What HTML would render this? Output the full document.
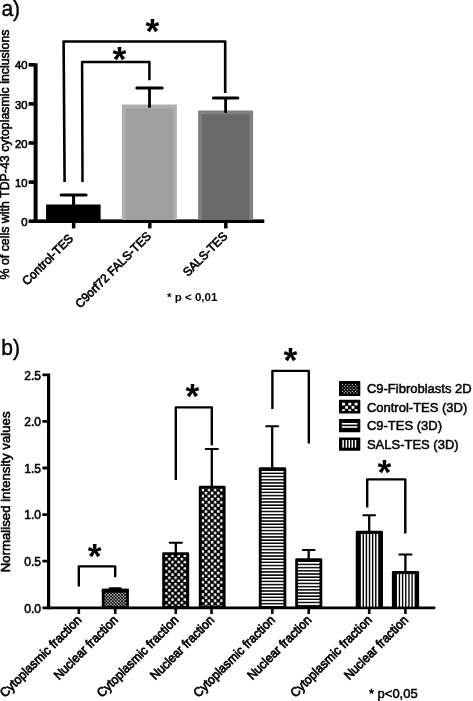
<!DOCTYPE html>
<html lang="en"><head><meta charset="utf-8"><title>Figure</title>
<style>html,body{margin:0;padding:0;background:#fff;overflow:hidden}svg{display:block;filter:grayscale(1)}text{font-family:"Liberation Sans", Arial, Helvetica, sans-serif;fill:#000}</style>
</head><body>
<svg width="473" height="701" viewBox="0 0 473 701">
<defs>
<pattern id="chk2" patternUnits="userSpaceOnUse" width="6.2" height="6.24" x="164.75" y="554.44"><rect width="6.2" height="6.24" fill="#000"/><rect x="0.32" y="0.33" width="2.45" height="2.45" rx="0.45" fill="#fff"/><rect x="3.43" y="3.45" width="2.45" height="2.45" rx="0.45" fill="#fff"/></pattern>
<pattern id="chk3" patternUnits="userSpaceOnUse" width="6.2" height="6.15" x="201.25" y="488.46"><rect width="6.2" height="6.15" fill="#000"/><rect x="0.32" y="0.31" width="2.45" height="2.45" rx="0.45" fill="#fff"/><rect x="3.43" y="3.39" width="2.45" height="2.45" rx="0.45" fill="#fff"/></pattern>
<pattern id="dots" patternUnits="userSpaceOnUse" width="3.13" height="3.1" x="105.62" y="592.62"><rect width="3.13" height="3.1" fill="#000"/><circle cx="0.78" cy="0.775" r="0.68" fill="#fff"/><circle cx="2.345" cy="2.325" r="0.68" fill="#fff"/></pattern>
<pattern id="hs4" patternUnits="userSpaceOnUse" width="10" height="3.1786" y="470.95"><rect width="10" height="3.1786" fill="#000"/><rect x="0" y="0" width="10" height="1.7" fill="#fff"/></pattern>
<pattern id="hs5" patternUnits="userSpaceOnUse" width="10" height="3.17" y="562.05"><rect width="10" height="3.17" fill="#000"/><rect x="0" y="0" width="10" height="1.7" fill="#fff"/></pattern>
<pattern id="vs" patternUnits="userSpaceOnUse" width="3.17" height="10" x="0.1"><rect width="3.17" height="10" fill="#000"/><rect x="0" y="0" width="1.585" height="10" fill="#fff"/></pattern>
</defs>
<rect width="473" height="701" fill="#fff"/>
<text x="1.40" y="16.30" font-size="22.5" font-weight="400" text-anchor="start" textLength="18.7" lengthAdjust="spacingAndGlyphs" stroke="#000" stroke-width="0.4" >a)</text>
<text transform="translate(9.40,279.50) rotate(-90)" font-size="13.1" font-weight="400" text-anchor="start" textLength="250" lengthAdjust="spacingAndGlyphs" stroke="#000" stroke-width="0.55" >% of cells with TDP-43 cytoplasmic inclusions</text>
<rect x="33.60" y="63.20" width="4.00" height="159.80" fill="#000" />
<text x="27.60" y="225.80" font-size="11.8" font-weight="400" text-anchor="end" textLength="6.3" lengthAdjust="spacingAndGlyphs" stroke="#000" stroke-width="0.6" >0</text>
<rect x="28.60" y="180.30" width="5.50" height="3.60" fill="#000" />
<text x="27.60" y="186.70" font-size="11.8" font-weight="400" text-anchor="end" textLength="12.5" lengthAdjust="spacingAndGlyphs" stroke="#000" stroke-width="0.6" >10</text>
<rect x="28.60" y="141.20" width="5.50" height="3.60" fill="#000" />
<text x="27.60" y="147.60" font-size="11.8" font-weight="400" text-anchor="end" textLength="12.5" lengthAdjust="spacingAndGlyphs" stroke="#000" stroke-width="0.6" >20</text>
<rect x="28.60" y="102.10" width="5.50" height="3.60" fill="#000" />
<text x="27.60" y="108.50" font-size="11.8" font-weight="400" text-anchor="end" textLength="12.5" lengthAdjust="spacingAndGlyphs" stroke="#000" stroke-width="0.6" >30</text>
<rect x="28.60" y="63.00" width="5.50" height="3.60" fill="#000" />
<text x="27.60" y="69.40" font-size="11.8" font-weight="400" text-anchor="end" textLength="12.5" lengthAdjust="spacingAndGlyphs" stroke="#000" stroke-width="0.6" >40</text>
<rect x="28.60" y="219.40" width="235.70" height="3.60" fill="#000" />
<rect x="71.90" y="222.00" width="3.50" height="6.40" fill="#000" />
<rect x="148.05" y="222.00" width="3.50" height="6.40" fill="#000" />
<rect x="224.05" y="222.00" width="3.50" height="6.40" fill="#000" />
<rect x="46.10" y="204.50" width="54.50" height="15.50" fill="#000" />
<rect x="121.90" y="104.60" width="55.00" height="115.40" fill="#afafaf" rx="1"/>
<rect x="125.60" y="108.50" width="47.70" height="111.50" fill="#9f9f9f" />
<rect x="198.10" y="110.40" width="55.00" height="109.60" fill="#818181" rx="1"/>
<rect x="201.80" y="114.30" width="47.60" height="105.70" fill="#696969" />
<line x1="73.60" y1="195.00" x2="73.60" y2="206.00" stroke="#000" stroke-width="3.0" stroke-linecap="butt"/>
<line x1="61.10" y1="195.00" x2="86.10" y2="195.00" stroke="#000" stroke-width="3.0" stroke-linecap="round"/>
<line x1="149.50" y1="88.00" x2="149.50" y2="107.70" stroke="#000" stroke-width="2.8" stroke-linecap="butt"/>
<line x1="136.80" y1="88.00" x2="162.20" y2="88.00" stroke="#000" stroke-width="3.0" stroke-linecap="round"/>
<line x1="225.60" y1="98.00" x2="225.60" y2="112.80" stroke="#000" stroke-width="2.8" stroke-linecap="butt"/>
<line x1="213.35" y1="98.00" x2="237.85" y2="98.00" stroke="#000" stroke-width="3.0" stroke-linecap="round"/>
<polyline points="64.60,182.10 63.60,41.50 225.20,41.50 225.20,92.90" fill="none" stroke="#000" stroke-width="2.6" stroke-linejoin="round"/>
<polyline points="82.50,182.10 82.10,62.00 149.40,62.00 149.40,80.30" fill="none" stroke="#000" stroke-width="2.5" stroke-linejoin="round"/>
<text x="145.59" y="42.68" font-size="35.5" font-weight="700">*</text>
<text x="112.59" y="70.98" font-size="35.5" font-weight="700">*</text>
<text transform="translate(74.00,239.20) rotate(-45)" font-size="12.2" font-weight="400" text-anchor="end" textLength="66.3" lengthAdjust="spacingAndGlyphs" stroke="#000" stroke-width="0.65" >Control-TES</text>
<text transform="translate(151.90,236.90) rotate(-45)" font-size="12.2" font-weight="400" text-anchor="end" textLength="101.5" lengthAdjust="spacingAndGlyphs" stroke="#000" stroke-width="0.65" >C9orf72 FALS-TES</text>
<text transform="translate(228.20,236.90) rotate(-45)" font-size="12.2" font-weight="400" text-anchor="end" textLength="56.8" lengthAdjust="spacingAndGlyphs" stroke="#000" stroke-width="0.65" >SALS-TES</text>
<text x="167.10" y="301.00" font-size="11.5" font-weight="700" text-anchor="start" >* p &lt; 0,01</text>
<text x="1.20" y="354.70" font-size="22.5" font-weight="400" text-anchor="start" textLength="18.7" lengthAdjust="spacingAndGlyphs" stroke="#000" stroke-width="0.4" >b)</text>
<text transform="translate(9.80,572.30) rotate(-90)" font-size="12.6" font-weight="400" text-anchor="start" textLength="160.8" lengthAdjust="spacingAndGlyphs" stroke="#000" stroke-width="0.55" >Normalised intensity values</text>
<rect x="47.00" y="373.50" width="3.20" height="235.70" fill="#000" />
<text x="40.90" y="612.50" font-size="12" font-weight="400" text-anchor="end" stroke="#000" stroke-width="0.55" >0.0</text>
<rect x="42.20" y="559.80" width="5.30" height="2.80" fill="#000" rx="1.1"/>
<text x="40.90" y="565.90" font-size="12" font-weight="400" text-anchor="end" stroke="#000" stroke-width="0.55" >0.5</text>
<rect x="42.20" y="513.20" width="5.30" height="2.80" fill="#000" rx="1.1"/>
<text x="40.90" y="519.30" font-size="12" font-weight="400" text-anchor="end" stroke="#000" stroke-width="0.55" >1.0</text>
<rect x="42.20" y="466.60" width="5.30" height="2.80" fill="#000" rx="1.1"/>
<text x="40.90" y="472.70" font-size="12" font-weight="400" text-anchor="end" stroke="#000" stroke-width="0.55" >1.5</text>
<rect x="42.20" y="420.00" width="5.30" height="2.80" fill="#000" rx="1.1"/>
<text x="40.90" y="426.10" font-size="12" font-weight="400" text-anchor="end" stroke="#000" stroke-width="0.55" >2.0</text>
<rect x="42.20" y="373.40" width="5.30" height="2.80" fill="#000" rx="1.1"/>
<text x="40.90" y="379.50" font-size="12" font-weight="400" text-anchor="end" stroke="#000" stroke-width="0.55" >2.5</text>
<rect x="42.20" y="606.40" width="393.30" height="2.80" fill="#000" rx="1.1"/>
<rect x="77.50" y="608.00" width="2.60" height="6.00" fill="#000" />
<rect x="113.90" y="608.00" width="2.60" height="6.00" fill="#000" />
<rect x="174.50" y="608.00" width="2.60" height="6.00" fill="#000" />
<rect x="210.20" y="608.00" width="2.60" height="6.00" fill="#000" />
<rect x="271.00" y="608.00" width="2.60" height="6.00" fill="#000" />
<rect x="307.40" y="608.00" width="2.60" height="6.00" fill="#000" />
<rect x="367.90" y="608.00" width="2.60" height="6.00" fill="#000" />
<rect x="404.10" y="608.00" width="2.60" height="6.00" fill="#000" />
<rect x="103.20" y="590.20" width="24.30" height="17.30" fill="url(#dots)" stroke="#000" stroke-width="2.8" stroke-linejoin="round"/>
<rect x="101.80" y="588.80" width="27.10" height="3.90" fill="#000" />
<rect x="163.60" y="553.60" width="24.20" height="53.90" fill="url(#chk2)" stroke="#000" stroke-width="2.8" stroke-linejoin="round"/>
<rect x="200.20" y="487.10" width="24.00" height="120.40" fill="url(#chk3)" stroke="#000" stroke-width="2.8" stroke-linejoin="round"/>
<rect x="260.20" y="468.70" width="24.70" height="138.80" fill="url(#hs4)" stroke="#000" stroke-width="2.8" stroke-linejoin="round"/>
<rect x="296.60" y="559.60" width="24.30" height="47.90" fill="url(#hs5)" stroke="#000" stroke-width="2.8" stroke-linejoin="round"/>
<rect x="355.75" y="530.75" width="27.25" height="77.25" fill="#000" rx="1.2"/>
<rect x="360.85" y="533.90" width="1.70" height="72.70" fill="#fff" />
<rect x="363.98" y="533.90" width="1.70" height="72.70" fill="#fff" />
<rect x="367.11" y="533.90" width="1.70" height="72.70" fill="#fff" />
<rect x="370.24" y="533.90" width="1.70" height="72.70" fill="#fff" />
<rect x="373.37" y="533.90" width="1.70" height="72.70" fill="#fff" />
<rect x="376.50" y="533.90" width="1.70" height="72.70" fill="#fff" />
<rect x="391.90" y="571.10" width="27.20" height="36.90" fill="#000" rx="1.2"/>
<rect x="396.95" y="574.10" width="1.80" height="32.50" fill="#fff" />
<rect x="400.12" y="574.10" width="1.80" height="32.50" fill="#fff" />
<rect x="403.29" y="574.10" width="1.80" height="32.50" fill="#fff" />
<rect x="406.46" y="574.10" width="1.80" height="32.50" fill="#fff" />
<rect x="409.63" y="574.10" width="1.80" height="32.50" fill="#fff" />
<rect x="412.80" y="574.10" width="1.80" height="32.50" fill="#fff" />
<line x1="115.20" y1="588.30" x2="115.20" y2="590.00" stroke="#000" stroke-width="2.2" stroke-linecap="butt"/>
<line x1="109.70" y1="588.30" x2="120.70" y2="588.30" stroke="#000" stroke-width="2.0" stroke-linecap="round"/>
<line x1="175.80" y1="542.80" x2="175.80" y2="553.00" stroke="#000" stroke-width="2.3" stroke-linecap="butt"/>
<line x1="169.75" y1="542.80" x2="181.85" y2="542.80" stroke="#000" stroke-width="2.1" stroke-linecap="round"/>
<line x1="211.80" y1="449.00" x2="211.80" y2="487.00" stroke="#000" stroke-width="2.3" stroke-linecap="butt"/>
<line x1="205.75" y1="449.00" x2="217.85" y2="449.00" stroke="#000" stroke-width="2.1" stroke-linecap="round"/>
<line x1="272.20" y1="426.20" x2="272.20" y2="468.50" stroke="#000" stroke-width="2.3" stroke-linecap="butt"/>
<line x1="266.25" y1="426.20" x2="278.15" y2="426.20" stroke="#000" stroke-width="2.1" stroke-linecap="round"/>
<line x1="308.70" y1="550.00" x2="308.70" y2="559.50" stroke="#000" stroke-width="2.3" stroke-linecap="butt"/>
<line x1="302.85" y1="550.00" x2="314.55" y2="550.00" stroke="#000" stroke-width="2.1" stroke-linecap="round"/>
<line x1="369.20" y1="515.20" x2="369.20" y2="532.00" stroke="#000" stroke-width="2.3" stroke-linecap="butt"/>
<line x1="363.35" y1="515.20" x2="375.05" y2="515.20" stroke="#000" stroke-width="2.1" stroke-linecap="round"/>
<line x1="405.40" y1="554.50" x2="405.40" y2="572.00" stroke="#000" stroke-width="2.3" stroke-linecap="butt"/>
<line x1="399.35" y1="554.50" x2="411.45" y2="554.50" stroke="#000" stroke-width="2.1" stroke-linecap="round"/>
<polyline points="78.80,586.60 78.80,566.40 115.20,566.40 115.20,577.30" fill="none" stroke="#000" stroke-width="2.4" stroke-linejoin="round"/>
<polyline points="175.80,480.00 175.80,407.40 211.80,407.40 211.80,445.30" fill="none" stroke="#000" stroke-width="2.4" stroke-linejoin="round"/>
<polyline points="272.40,408.90 272.40,370.90 308.80,370.90 308.80,443.50" fill="none" stroke="#000" stroke-width="2.4" stroke-linejoin="round"/>
<polyline points="367.20,507.40 367.20,479.40 405.30,479.40 405.30,533.60" fill="none" stroke="#000" stroke-width="2.4" stroke-linejoin="round"/>
<text x="87.69" y="567.98" font-size="35.5" font-weight="700">*</text>
<text x="185.54" y="408.18" font-size="35.5" font-weight="700">*</text>
<text x="283.49" y="371.78" font-size="35.5" font-weight="700">*</text>
<text x="377.59" y="484.08" font-size="35.5" font-weight="700">*</text>
<text transform="translate(82.30,620.80) rotate(-45)" font-size="12.8" font-weight="400" text-anchor="end" textLength="109.3" lengthAdjust="spacingAndGlyphs" stroke="#000" stroke-width="0.72" >Cytoplasmic fraction</text>
<text transform="translate(118.70,620.80) rotate(-45)" font-size="12.8" font-weight="400" text-anchor="end" textLength="84.5" lengthAdjust="spacingAndGlyphs" stroke="#000" stroke-width="0.72" >Nuclear fraction</text>
<text transform="translate(179.30,620.80) rotate(-45)" font-size="12.8" font-weight="400" text-anchor="end" textLength="109.3" lengthAdjust="spacingAndGlyphs" stroke="#000" stroke-width="0.72" >Cytoplasmic fraction</text>
<text transform="translate(215.00,620.80) rotate(-45)" font-size="12.8" font-weight="400" text-anchor="end" textLength="84.5" lengthAdjust="spacingAndGlyphs" stroke="#000" stroke-width="0.72" >Nuclear fraction</text>
<text transform="translate(275.80,620.80) rotate(-45)" font-size="12.8" font-weight="400" text-anchor="end" textLength="109.3" lengthAdjust="spacingAndGlyphs" stroke="#000" stroke-width="0.72" >Cytoplasmic fraction</text>
<text transform="translate(312.20,620.80) rotate(-45)" font-size="12.8" font-weight="400" text-anchor="end" textLength="84.5" lengthAdjust="spacingAndGlyphs" stroke="#000" stroke-width="0.72" >Nuclear fraction</text>
<text transform="translate(372.70,620.80) rotate(-45)" font-size="12.8" font-weight="400" text-anchor="end" textLength="109.3" lengthAdjust="spacingAndGlyphs" stroke="#000" stroke-width="0.72" >Cytoplasmic fraction</text>
<text transform="translate(408.90,620.80) rotate(-45)" font-size="12.8" font-weight="400" text-anchor="end" textLength="84.5" lengthAdjust="spacingAndGlyphs" stroke="#000" stroke-width="0.72" >Nuclear fraction</text>
<rect x="339.00" y="381.10" width="21.30" height="14.90" fill="#000" rx="0.6"/>
<text x="366.90" y="392.80" font-size="13" font-weight="400" text-anchor="start" stroke="#000" stroke-width="0.5" >C9-Fibroblasts 2D</text>
<rect x="339.00" y="399.80" width="21.30" height="13.70" fill="#000" rx="0.6"/>
<text x="366.90" y="411.50" font-size="13" font-weight="400" text-anchor="start" stroke="#000" stroke-width="0.5" >Control-TES (3D)</text>
<rect x="339.00" y="418.90" width="21.30" height="13.30" fill="#000" rx="0.6"/>
<text x="366.90" y="430.20" font-size="13" font-weight="400" text-anchor="start" stroke="#000" stroke-width="0.5" >C9-TES (3D)</text>
<rect x="339.00" y="437.40" width="21.30" height="13.30" fill="#000" rx="0.6"/>
<text x="366.90" y="448.90" font-size="13" font-weight="400" text-anchor="start" stroke="#000" stroke-width="0.5" >SALS-TES (3D)</text>
<circle cx="342.6" cy="384.7" r="0.6" fill="#e4e4e4"/>
<circle cx="345.8" cy="384.7" r="0.6" fill="#e4e4e4"/>
<circle cx="349.0" cy="384.7" r="0.6" fill="#e4e4e4"/>
<circle cx="352.3" cy="384.7" r="0.6" fill="#e4e4e4"/>
<circle cx="355.5" cy="384.7" r="0.6" fill="#e4e4e4"/>
<circle cx="344.3" cy="386.35" r="0.6" fill="#e4e4e4"/>
<circle cx="347.5" cy="386.35" r="0.6" fill="#e4e4e4"/>
<circle cx="350.7" cy="386.35" r="0.6" fill="#e4e4e4"/>
<circle cx="353.9" cy="386.35" r="0.6" fill="#e4e4e4"/>
<circle cx="357.0" cy="386.35" r="0.6" fill="#e4e4e4"/>
<circle cx="342.6" cy="388.0" r="0.6" fill="#e4e4e4"/>
<circle cx="345.8" cy="388.0" r="0.6" fill="#e4e4e4"/>
<circle cx="349.0" cy="388.0" r="0.6" fill="#e4e4e4"/>
<circle cx="352.3" cy="388.0" r="0.6" fill="#e4e4e4"/>
<circle cx="355.5" cy="388.0" r="0.6" fill="#e4e4e4"/>
<circle cx="344.3" cy="389.7" r="0.6" fill="#e4e4e4"/>
<circle cx="347.5" cy="389.7" r="0.6" fill="#e4e4e4"/>
<circle cx="350.7" cy="389.7" r="0.6" fill="#e4e4e4"/>
<circle cx="353.9" cy="389.7" r="0.6" fill="#e4e4e4"/>
<circle cx="357.0" cy="389.7" r="0.6" fill="#e4e4e4"/>
<circle cx="342.6" cy="391.4" r="0.6" fill="#e4e4e4"/>
<circle cx="345.8" cy="391.4" r="0.6" fill="#e4e4e4"/>
<circle cx="349.0" cy="391.4" r="0.6" fill="#e4e4e4"/>
<circle cx="352.3" cy="391.4" r="0.6" fill="#e4e4e4"/>
<circle cx="355.5" cy="391.4" r="0.6" fill="#e4e4e4"/>
<circle cx="344.3" cy="392.95" r="0.6" fill="#e4e4e4"/>
<circle cx="347.5" cy="392.95" r="0.6" fill="#e4e4e4"/>
<circle cx="350.7" cy="392.95" r="0.6" fill="#e4e4e4"/>
<circle cx="353.9" cy="392.95" r="0.6" fill="#e4e4e4"/>
<circle cx="357.0" cy="392.95" r="0.6" fill="#e4e4e4"/>
<rect x="342.05" y="402.65" width="2.90" height="2.90" fill="#fff" rx="0.5"/>
<rect x="342.05" y="409.30" width="2.90" height="1.70" fill="#fff" rx="0.4"/>
<rect x="348.35" y="402.65" width="2.90" height="2.90" fill="#fff" rx="0.5"/>
<rect x="348.35" y="409.30" width="2.90" height="1.70" fill="#fff" rx="0.4"/>
<rect x="354.65" y="402.65" width="2.90" height="2.90" fill="#fff" rx="0.5"/>
<rect x="354.65" y="409.30" width="2.90" height="1.70" fill="#fff" rx="0.4"/>
<rect x="345.20" y="406.00" width="2.80" height="2.80" fill="#fff" rx="0.5"/>
<rect x="351.60" y="406.00" width="2.80" height="2.80" fill="#fff" rx="0.5"/>
<rect x="341.90" y="423.00" width="15.50" height="1.60" fill="#fff" />
<rect x="341.90" y="426.20" width="15.50" height="1.60" fill="#fff" />
<rect x="342.35" y="440.00" width="1.50" height="7.70" fill="#fff" />
<rect x="345.55" y="440.00" width="1.50" height="7.70" fill="#fff" />
<rect x="348.55" y="440.00" width="1.50" height="7.70" fill="#fff" />
<rect x="351.55" y="440.00" width="1.50" height="7.70" fill="#fff" />
<rect x="354.75" y="440.00" width="1.50" height="7.70" fill="#fff" />
<text x="368.90" y="698.10" font-size="13" font-weight="400" text-anchor="start" stroke="#000" stroke-width="0.5" >* p&lt;0,05</text>
</svg></body></html>
